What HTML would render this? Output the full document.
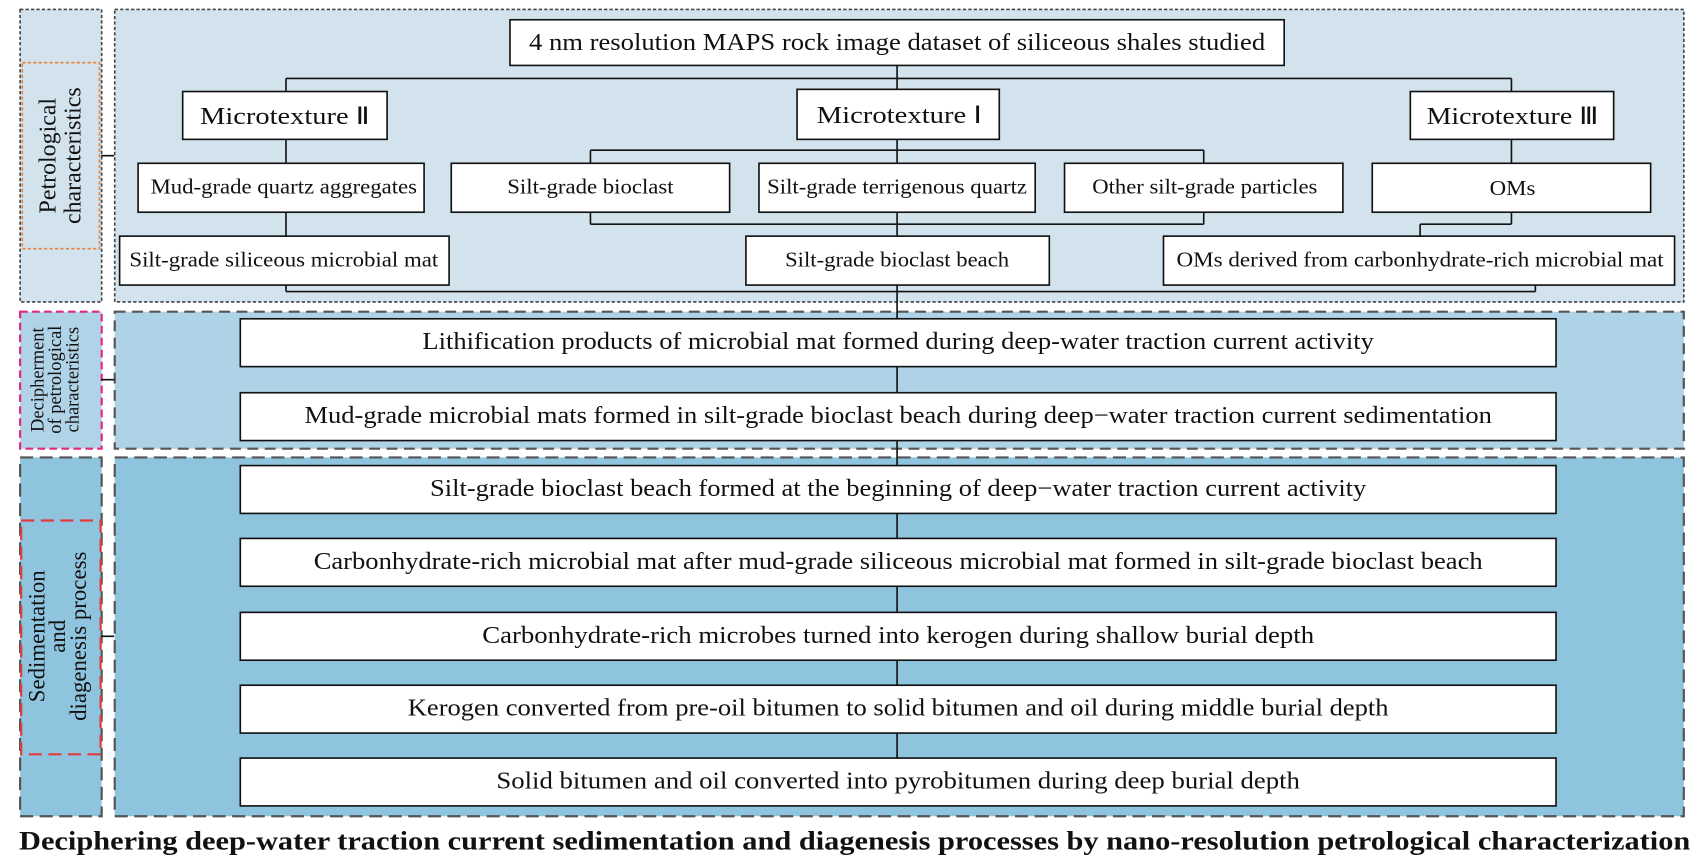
<!DOCTYPE html>
<html><head><meta charset="utf-8"><style>
html,body{margin:0;padding:0;background:#fff;}
svg{display:block}
text{font-family:"Liberation Serif",serif;fill:#111;}
</style></head><body>
<svg width="1705" height="867" viewBox="0 0 1568 797" xmlns="http://www.w3.org/2000/svg">
<rect x="18.5" y="8.5" width="75" height="269" fill="#d2e3ed" stroke="#444" stroke-width="1.5" stroke-dasharray="3,2"/>
<rect x="20.5" y="57.5" width="71" height="171" fill="none" stroke="#e8823e" stroke-width="1.5" stroke-dasharray="3,2"/>
<rect x="105.5" y="8.5" width="1443" height="269" fill="#d2e3ed" stroke="#444" stroke-width="1.5" stroke-dasharray="3,2"/>
<rect x="18.5" y="286.5" width="75" height="126" fill="#b0d3e7" stroke="#e0297f" stroke-width="2" stroke-dasharray="7,4"/>
<rect x="105.5" y="286.5" width="1443" height="126" fill="#aed2e6" stroke="#555" stroke-width="2" stroke-dasharray="10,6"/>
<rect x="18.5" y="420.5" width="75" height="330" fill="#8fc4df" stroke="#555" stroke-width="2" stroke-dasharray="12,6"/>
<rect x="19.5" y="478.5" width="73" height="215" fill="none" stroke="#e23b3b" stroke-width="2" stroke-dasharray="12,6"/>
<rect x="105.5" y="420.5" width="1443" height="330" fill="#8fc4df" stroke="#555" stroke-width="2" stroke-dasharray="12,6"/>

<g stroke="#111" stroke-width="1.5" fill="none">
<line x1="93" y1="143" x2="105" y2="143"/>
<line x1="93" y1="349" x2="105" y2="349"/>
<line x1="93" y1="585" x2="105" y2="585"/>
<line x1="825" y1="60" x2="825" y2="82"/>
<line x1="263" y1="72" x2="1390" y2="72"/>
<line x1="263" y1="72" x2="263" y2="84"/>
<line x1="1390" y1="72" x2="1390" y2="84"/>
<line x1="263" y1="128" x2="263" y2="150"/>
<line x1="263" y1="195" x2="263" y2="217"/>
<line x1="825" y1="128" x2="825" y2="150"/>
<line x1="543" y1="138" x2="1107" y2="138"/>
<line x1="543" y1="138" x2="543" y2="150"/>
<line x1="1107" y1="138" x2="1107" y2="150"/>
<line x1="543" y1="195" x2="543" y2="206"/>
<line x1="1107" y1="195" x2="1107" y2="206"/>
<line x1="543" y1="206" x2="1107" y2="206"/>
<line x1="825" y1="195" x2="825" y2="217"/>
<line x1="1390" y1="128" x2="1390" y2="150"/>
<line x1="1390" y1="195" x2="1390" y2="206"/>
<line x1="1306" y1="206" x2="1390" y2="206"/>
<line x1="1306" y1="206" x2="1306" y2="217"/>
<line x1="263" y1="262" x2="263" y2="268"/>
<line x1="1412" y1="262" x2="1412" y2="268"/>
<line x1="263" y1="268" x2="1412" y2="268"/>
<line x1="825" y1="262" x2="825" y2="697"/>
</g>

<g fill="#fff" stroke="#111" stroke-width="1.5">
<rect x="469" y="18" width="712" height="42"/>
<rect x="168" y="84" width="188" height="44"/>
<rect x="733" y="82" width="186" height="46"/>
<rect x="1297" y="84" width="187" height="44"/>
<rect x="127" y="150" width="263" height="45"/>
<rect x="415" y="150" width="256" height="45"/>
<rect x="698" y="150" width="254" height="45"/>
<rect x="979" y="150" width="256" height="45"/>
<rect x="1262" y="150" width="256" height="45"/>
<rect x="110" y="217" width="303" height="45"/>
<rect x="686" y="217" width="279" height="45"/>
<rect x="1070" y="217" width="470" height="45"/>
<rect x="221" y="293" width="1210" height="44"/>
<rect x="221" y="361" width="1210" height="44"/>
<rect x="221" y="428" width="1210" height="44"/>
<rect x="221" y="495" width="1210" height="44"/>
<rect x="221" y="563" width="1210" height="44"/>
<rect x="221" y="630" width="1210" height="44"/>
<rect x="221" y="697" width="1210" height="44"/>
</g>

<g text-anchor="middle" font-size="22" lengthAdjust="spacingAndGlyphs">
<text x="825" y="46" textLength="677" lengthAdjust="spacingAndGlyphs">4 nm resolution MAPS rock image dataset of siliceous shales studied</text>
<text x="262" y="114" textLength="156" lengthAdjust="spacingAndGlyphs">Microtexture Ⅱ</text>
<text x="827" y="113" textLength="152" lengthAdjust="spacingAndGlyphs">Microtexture Ⅰ</text>
<text x="1391" y="114" textLength="158" lengthAdjust="spacingAndGlyphs">Microtexture Ⅲ</text>
</g>
<g text-anchor="middle" font-size="19">
<text x="261" y="178" textLength="245" lengthAdjust="spacingAndGlyphs">Mud-grade quartz aggregates</text>
<text x="543" y="178" textLength="153" lengthAdjust="spacingAndGlyphs">Silt-grade bioclast</text>
<text x="825" y="178" textLength="239" lengthAdjust="spacingAndGlyphs">Silt-grade terrigenous quartz</text>
<text x="1108" y="178" textLength="207" lengthAdjust="spacingAndGlyphs">Other silt-grade particles</text>
<text x="1391" y="179" textLength="42" lengthAdjust="spacingAndGlyphs">OMs</text>
<text x="261" y="245" textLength="284" lengthAdjust="spacingAndGlyphs">Silt-grade siliceous microbial mat</text>
<text x="825" y="245" textLength="206" lengthAdjust="spacingAndGlyphs">Silt-grade bioclast beach</text>
<text x="1306" y="245" textLength="448" lengthAdjust="spacingAndGlyphs">OMs  derived from carbonhydrate-rich microbial mat</text>
</g>
<g text-anchor="middle" font-size="22">
<text x="826" y="321" textLength="875" lengthAdjust="spacingAndGlyphs">Lithification products of microbial mat formed during deep-water traction current activity</text>
<text x="826" y="389" textLength="1092" lengthAdjust="spacingAndGlyphs">Mud-grade microbial mats formed in silt-grade bioclast beach during deep−water traction current sedimentation</text>
<text x="826" y="456" textLength="861" lengthAdjust="spacingAndGlyphs">Silt-grade bioclast beach formed at the beginning of deep−water traction current activity</text>
<text x="826" y="523" textLength="1075" lengthAdjust="spacingAndGlyphs">Carbonhydrate-rich microbial mat after mud-grade siliceous microbial mat formed in silt-grade bioclast beach</text>
<text x="826" y="591" textLength="765" lengthAdjust="spacingAndGlyphs">Carbonhydrate-rich  microbes turned into kerogen during shallow burial depth</text>
<text x="826" y="658" textLength="902" lengthAdjust="spacingAndGlyphs">Kerogen converted from pre-oil bitumen to solid bitumen and oil during middle burial depth</text>
<text x="826" y="725" textLength="739" lengthAdjust="spacingAndGlyphs">Solid  bitumen and oil converted into pyrobitumen during deep burial depth</text>
</g>

<g text-anchor="middle" font-size="22">
<text transform="translate(55,143) rotate(-90)"><tspan x="0" y="-4">Petrological</tspan><tspan x="0" y="19">characteristics</tspan></text>
</g>
<g text-anchor="middle" font-size="17">
<text transform="translate(55,349) rotate(-90)"><tspan x="0" y="-15">Decipherment</tspan><tspan x="0" y="1">of petrological</tspan><tspan x="0" y="17">characteristics</tspan></text>
</g>
<g text-anchor="middle" font-size="21">
<text transform="translate(55,585) rotate(-90)"><tspan x="0" y="-14">Sedimentation</tspan><tspan x="0" y="5">and</tspan><tspan x="0" y="24">diagenesis process</tspan></text>
</g>

<text x="786" y="781" text-anchor="middle" font-size="24" font-weight="bold" textLength="1537" lengthAdjust="spacingAndGlyphs">Deciphering deep-water traction current sedimentation and diagenesis processes by nano-resolution petrological characterization</text>
</svg>
</body></html>
